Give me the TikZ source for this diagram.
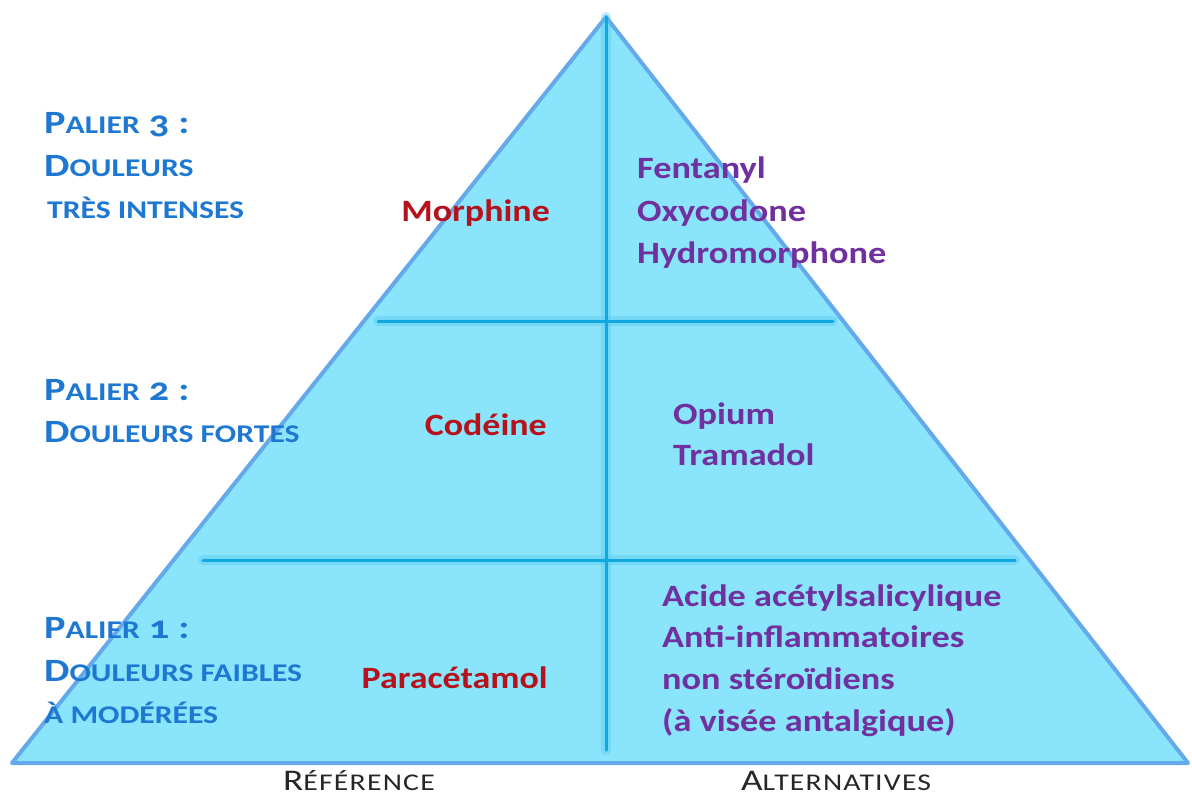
\documentclass[tikz,border=0pt]{standalone}
\usepackage{fontspec}
\setmainfont{Carlito}
\definecolor{fillb}{HTML}{8AE4FC}
\definecolor{edgeb}{HTML}{64AAEB}
\definecolor{lineb}{HTML}{10A8DE}
\definecolor{glowb}{HTML}{4CC6F0}
\definecolor{bluet}{HTML}{1E78D2}
\definecolor{redt}{HTML}{B5121B}
\definecolor{purt}{HTML}{7030A0}
\newcommand\smc[1]{{\fontsize{25.5}{30}\selectfont #1}}
\newcommand\smcb[1]{{\fontsize{24}{30}\selectfont #1}}
\tikzset{
  lbl/.style={anchor=base west, inner sep=0pt, text=bluet,
    font=\fontsize{32.5}{40}\selectfont\bfseries\addfontfeatures{Numbers=OldStyle,FakeStretch=1.24}},
  drug/.style={anchor=base east, inner sep=0pt, text=redt,
    font=\fontsize{31}{40}\selectfont\bfseries\addfontfeatures{FakeStretch=1.16}},
  alt/.style={anchor=base west, inner sep=0pt, text=purt,
    font=\fontsize{31}{40}\selectfont\bfseries\addfontfeatures{FakeStretch=1.17}},
  foot/.style={anchor=base west, inner sep=0pt, text=black!85,
    font=\fontsize{30}{36}\selectfont\addfontfeatures{FakeStretch=1.24,LetterSpace=5}},
  divider/.style={line width=3pt, draw=lineb, line cap=round},
  glow/.style={line width=10pt, draw=glowb, opacity=0.35, line cap=round}
}
\begin{document}
\begin{tikzpicture}[x=1pt,y=-1pt]
\useasboundingbox (0,0) rectangle (1192,796);
\fill[white] (0,0) rectangle (1192,796);
\coordinate (A) at (606,17);
\coordinate (L) at (12,763);
\coordinate (R) at (1188,763);
\filldraw[fill=fillb, draw=edgeb, line width=4pt, line join=round] (A)--(L)--(R)--cycle;
\coordinate (vt) at (606,17);
\coordinate (vb) at (606,750);
\coordinate (h1l) at (378,321);
\coordinate (h1r) at (833,321);
\coordinate (h2l) at (203,560);
\coordinate (h2r) at (1015,560);
\draw[glow] (vt)--(vb);
\draw[glow] (h1l)--(h1r);
\draw[glow] (h2l)--(h2r);
\draw[divider] (vt)--(vb);
\draw[divider] (h1l)--(h1r);
\draw[divider] (h2l)--(h2r);
% left labels
\node[lbl] (p3a) at (44,133) {P\smc{ALIER} 3 :};
\node[lbl] (p3b) at (44,176) {D\smc{OULEURS}};
\node[lbl] (p3c) at (47,218) {\smc{TRÈS INTENSES}};
\node[lbl] (p2a) at (44,400) {P\smc{ALIER} 2 :};
\node[lbl] (p2b) at (44,442) {D\smc{OULEURS FORTES}};
\node[lbl] (p1a) at (44,638) {P\smc{ALIER} 1 :};
\node[lbl] (p1b) at (44,681) {D\smc{OULEURS FAIBLES}};
\node[lbl] (p1c) at (44,723) {\smc{À MODÉRÉES}};
% reference drugs
\node[drug] (morph) at (550,221) {Morphine};
\node[drug] (code) at (547,435) {Codéine};
\node[drug] (para) at (548,688) {Paracétamol};
% alternatives
\node[alt] (f1) at (637,178) {Fentanyl};
\node[alt] (f2) at (637,221) {Oxycodone};
\node[alt] (f3) at (637,263) {Hydromorphone};
\node[alt] (o1) at (673,424) {Opium};
\node[alt] (o2) at (673,465) {Tramadol};
\node[alt] (a1) at (662,606) {Acide acétylsalicylique};
\node[alt] (a2) at (662,647) {Anti-inflammatoires};
\node[alt] (a3) at (662,689) {non stéroïdiens};
\node[alt] (a4) at (662,731) {(à visée antalgique)};
% footer
\node[foot] (ref) at (283,790) {R\smcb{ÉFÉRENCE}};
\node[foot] (alts) at (741,790) {A\smcb{LTERNATIVES}};
\end{tikzpicture}
\end{document}
